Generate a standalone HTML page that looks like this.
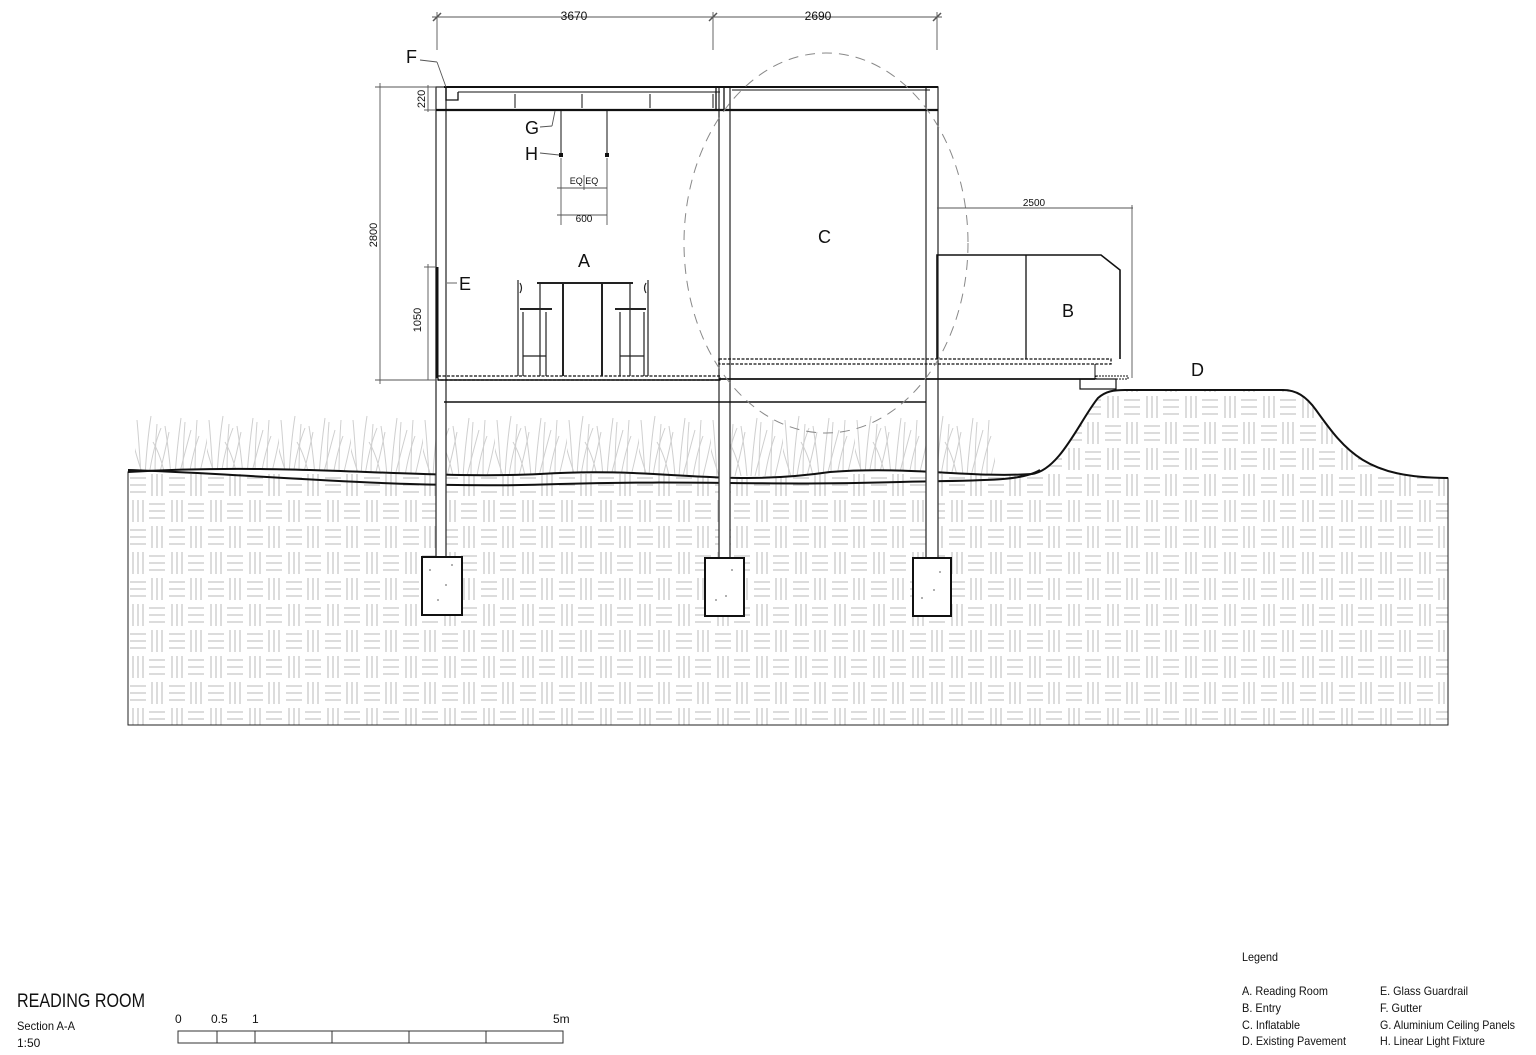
<!DOCTYPE html>
<html><head><meta charset="utf-8"><style>
html,body{margin:0;padding:0;background:#fff;}
svg{display:block;}
text{font-family:"Liberation Sans Narrow","Liberation Sans",sans-serif;fill:#111;}
</style></head><body>
<svg width="1536" height="1055" viewBox="0 0 1536 1055" xmlns="http://www.w3.org/2000/svg">
<defs>
<pattern id="hatch" x="128" y="472" width="39" height="52" patternUnits="userSpaceOnUse">
<g stroke="#c4c4c4" stroke-width="1.2">
<line x1="2" y1="6" x2="18" y2="6"/><line x1="2" y1="13" x2="18" y2="13"/><line x1="2" y1="20" x2="18" y2="20"/>
<line x1="24" y1="2" x2="24" y2="24"/><line x1="29" y1="2" x2="29" y2="24"/><line x1="34" y1="2" x2="34" y2="24"/>
<line x1="21" y1="32" x2="37" y2="32"/><line x1="21" y1="39" x2="37" y2="39"/><line x1="21" y1="46" x2="37" y2="46"/>
<line x1="5" y1="28" x2="5" y2="50"/><line x1="10" y1="28" x2="10" y2="50"/><line x1="15" y1="28" x2="15" y2="50"/>
</g></pattern>
<pattern id="grass" x="135" y="412" width="72" height="64" patternUnits="userSpaceOnUse">
<g stroke="#cfcfcf" stroke-width="1" fill="none">
<path d="M6,64 Q4,30 2,8"/><path d="M10,64 Q12,30 16,4"/><path d="M14,64 Q18,36 26,16"/><path d="M8,64 Q0,40 -4,22"/>
<path d="M20,64 Q20,36 22,12"/><path d="M24,64 Q30,40 34,20"/><path d="M36,64 Q34,40 30,14"/>
<path d="M40,64 Q42,36 46,6"/><path d="M44,64 Q50,40 56,18"/><path d="M48,64 Q48,34 50,10"/>
<path d="M54,64 Q58,40 64,24"/><path d="M60,64 Q60,36 62,8"/><path d="M64,64 Q70,40 74,18"/><path d="M30,64 Q26,44 18,30"/>
</g></pattern>
</defs>

<rect x="135" y="412" width="860" height="64" fill="url(#grass)"/>

<path d="M128,472 C300,462 420,480 540,474 C660,466 720,488 830,472 C910,466 970,478 1032,474 C1060,470 1080,420 1098,398 C1106,391 1114,390 1125,390 L1283,390 C1296,390 1306,396 1316,410 C1346,452 1366,478 1448,478 L1448,725 L128,725 Z" fill="#fff"/>
<path d="M128,472 C300,462 420,480 540,474 C660,466 720,488 830,472 C910,466 970,478 1032,474 C1060,470 1080,420 1098,398 C1106,391 1114,390 1125,390 L1283,390 C1296,390 1306,396 1316,410 C1346,452 1366,478 1448,478 L1448,725 L128,725 Z" fill="url(#hatch)" stroke="#222" stroke-width="1"/>
<path d="M128,472 C300,462 420,480 540,474 C660,466 720,488 830,472 C910,466 970,478 1032,474 C1060,470 1080,420 1098,398 C1106,391 1114,390 1125,390 L1283,390 C1296,390 1306,396 1316,410 C1346,452 1366,478 1448,478" fill="none" stroke="#111" stroke-width="2"/>
<path d="M128,470 C260,474 400,490 560,484 C700,480 760,486 900,482 C980,480 1020,482 1040,470" fill="none" stroke="#111" stroke-width="2"/>

<g fill="#fff" stroke="#333" stroke-width="1.3">
<rect x="436" y="87" width="10" height="472"/>
<rect x="719" y="87" width="11" height="472"/>
<rect x="926" y="87" width="12" height="472"/>
</g>
<g fill="#fff" stroke="#111" stroke-width="2">
<rect x="422" y="557" width="40" height="58"/>
<rect x="705" y="558" width="39" height="58"/>
<rect x="913" y="558" width="38" height="58"/>
</g>
<g fill="#999"><circle cx="430" cy="570" r="1"/><circle cx="446" cy="585" r="1"/><circle cx="438" cy="600" r="1"/><circle cx="452" cy="565" r="1"/><circle cx="716" cy="600" r="1"/><circle cx="732" cy="570" r="1"/><circle cx="726" cy="596" r="1"/><circle cx="940" cy="572" r="1"/><circle cx="922" cy="598" r="1"/><circle cx="934" cy="590" r="1"/></g>

<g stroke="#111" fill="none">
<line x1="444" y1="87" x2="938" y2="87" stroke-width="2"/>
<line x1="458" y1="92" x2="720" y2="92" stroke-width="1"/>
<line x1="732" y1="90" x2="930" y2="90" stroke-width="1"/>
<line x1="436" y1="110" x2="938" y2="110" stroke-width="2.2"/>
<path d="M446,87 L446,100 L458,100 L458,92" stroke-width="1.3"/>
<line x1="716" y1="88" x2="716" y2="110" stroke-width="1.3"/>
<line x1="724" y1="88" x2="724" y2="110" stroke-width="1.3"/>
<g stroke-width="1"><line x1="515" y1="94" x2="515" y2="108"/><line x1="582" y1="94" x2="582" y2="108"/><line x1="650" y1="94" x2="650" y2="108"/><line x1="713" y1="94" x2="713" y2="108"/></g>
<line x1="561" y1="110" x2="561" y2="156" stroke-width="1"/>
<line x1="607" y1="110" x2="607" y2="156" stroke-width="1"/>
</g>
<rect x="559" y="153" width="4" height="4" fill="#111"/><rect x="605" y="153" width="4" height="4" fill="#111"/>

<g stroke="#111" fill="none">
<rect x="438" y="376" width="282" height="4" stroke-width="1.3" stroke-dasharray="3,1.5"/>
<line x1="438" y1="380" x2="720" y2="380" stroke-width="1.5"/>
<line x1="444" y1="402" x2="926" y2="402" stroke-width="1.5"/>
<rect x="719" y="359" width="392" height="5" stroke-width="1.3" stroke-dasharray="3,1.5"/>
<line x1="719" y1="379" x2="1095" y2="379" stroke-width="1.8"/>
<line x1="1095" y1="364" x2="1095" y2="379"/>
<rect x="1080" y="379" width="36" height="10" stroke-width="1.2"/>
<rect x="1096" y="376" width="32" height="3" stroke-width="1" stroke-dasharray="2,1"/>
</g>

<path d="M937,359 L937,255 L1101,255 L1120,270 L1120,359" fill="none" stroke="#111" stroke-width="1.6"/>
<line x1="1026" y1="255" x2="1026" y2="359" stroke="#111" stroke-width="1.3"/>

<ellipse cx="826" cy="243" rx="142" ry="190" fill="none" stroke="#888" stroke-width="1" stroke-dasharray="10,7"/>

<g stroke="#222" fill="none" stroke-width="1.2">
<line x1="537" y1="283" x2="633" y2="283" stroke-width="2"/>
<line x1="540" y1="283" x2="540" y2="376"/><line x1="563" y1="283" x2="563" y2="376" stroke-width="2"/><line x1="602" y1="283" x2="602" y2="376" stroke-width="2"/><line x1="630" y1="283" x2="630" y2="376"/>
<line x1="518" y1="280" x2="518" y2="376"/><line x1="520" y1="309" x2="552" y2="309" stroke-width="2"/><line x1="523" y1="312" x2="523" y2="376"/><line x1="546" y1="312" x2="546" y2="376"/><line x1="523" y1="356" x2="546" y2="356"/>
<path d="M520,283 q3,5 0,10"/>
<line x1="648" y1="280" x2="648" y2="376"/><line x1="615" y1="309" x2="646" y2="309" stroke-width="2"/><line x1="620" y1="312" x2="620" y2="376"/><line x1="644" y1="312" x2="644" y2="376"/><line x1="620" y1="356" x2="644" y2="356"/>
<path d="M646,283 q-3,5 0,10"/>
</g>
<line x1="437" y1="267" x2="437" y2="378" stroke="#111" stroke-width="3"/>

<g stroke="#555" stroke-width="0.9" fill="none">
<line x1="432" y1="17" x2="942" y2="17"/>
<line x1="437" y1="12" x2="437" y2="50"/><line x1="713" y1="12" x2="713" y2="50"/><line x1="937" y1="12" x2="937" y2="50"/>
<line x1="433" y1="21" x2="441" y2="13" stroke-width="1.5"/><line x1="709" y1="21" x2="717" y2="13" stroke-width="1.5"/><line x1="933" y1="21" x2="941" y2="13" stroke-width="1.5"/>
<line x1="380" y1="83" x2="380" y2="384"/>
<line x1="375" y1="87" x2="436" y2="87"/><line x1="375" y1="380" x2="436" y2="380"/>
<line x1="428" y1="85" x2="428" y2="112"/><line x1="424" y1="110" x2="436" y2="110"/>
<line x1="428" y1="264" x2="428" y2="380"/><line x1="424" y1="267" x2="436" y2="267"/>
<line x1="937" y1="208" x2="1133" y2="208"/><line x1="1132" y1="205" x2="1132" y2="378"/>
<line x1="557" y1="188" x2="607" y2="188"/><line x1="557" y1="215" x2="607" y2="215"/>
<line x1="561" y1="158" x2="561" y2="225"/><line x1="584" y1="175" x2="584" y2="190"/><line x1="607" y1="158" x2="607" y2="225"/>
<line x1="420" y1="60" x2="437" y2="62"/><path d="M437,62 L446,87"/>
<line x1="540" y1="127" x2="552" y2="126"/><line x1="552" y1="126" x2="555" y2="111"/>
<line x1="540" y1="153" x2="559" y2="155"/>
<line x1="447" y1="283" x2="457" y2="283"/>
</g>
<text x="574" y="20" font-size="12" text-anchor="middle">3670</text>
<text x="818" y="20" font-size="12" text-anchor="middle">2690</text>
<text x="1034" y="206" font-size="10" text-anchor="middle">2500</text>
<text x="584" y="184" font-size="9" text-anchor="middle">EQ EQ</text>
<text x="584" y="222" font-size="10" text-anchor="middle">600</text>
<text transform="translate(377,235) rotate(-90)" font-size="11" text-anchor="middle">2800</text>
<text transform="translate(425,99) rotate(-90)" font-size="11" text-anchor="middle">220</text>
<text transform="translate(421,320) rotate(-90)" font-size="11" text-anchor="middle">1050</text>

<g font-size="18">
<text x="406" y="63">F</text>
<text x="525" y="134">G</text>
<text x="525" y="160">H</text>
<text x="578" y="267">A</text>
<text x="459" y="290">E</text>
<text x="818" y="243">C</text>
<text x="1062" y="317">B</text>
<text x="1191" y="376">D</text>
</g>

<text x="17" y="1007" font-size="19" textLength="128" lengthAdjust="spacingAndGlyphs">READING ROOM</text>
<text x="17" y="1030" font-size="12" textLength="58" lengthAdjust="spacingAndGlyphs">Section A-A</text>
<text x="17" y="1047" font-size="12">1:50</text>
<g font-size="12"><text x="175" y="1023">0</text><text x="211" y="1023">0.5</text><text x="252" y="1023">1</text><text x="553" y="1023">5m</text></g>
<g stroke="#333" fill="none" stroke-width="1">
<rect x="178" y="1031" width="385" height="12"/>
<line x1="217" y1="1031" x2="217" y2="1043"/><line x1="255" y1="1031" x2="255" y2="1043"/><line x1="332" y1="1031" x2="332" y2="1043"/><line x1="409" y1="1031" x2="409" y2="1043"/><line x1="486" y1="1031" x2="486" y2="1043"/>
</g>

<g font-size="12" lengthAdjust="spacingAndGlyphs">
<text x="1242" y="961" textLength="36" lengthAdjust="spacingAndGlyphs">Legend</text>
<text x="1242" y="995" textLength="86" lengthAdjust="spacingAndGlyphs">A. Reading Room</text>
<text x="1242" y="1012" textLength="39" lengthAdjust="spacingAndGlyphs">B. Entry</text>
<text x="1242" y="1029" textLength="58" lengthAdjust="spacingAndGlyphs">C. Inflatable</text>
<text x="1242" y="1045" textLength="104" lengthAdjust="spacingAndGlyphs">D. Existing Pavement</text>
<text x="1380" y="995" textLength="88" lengthAdjust="spacingAndGlyphs">E. Glass Guardrail</text>
<text x="1380" y="1012" textLength="42" lengthAdjust="spacingAndGlyphs">F. Gutter</text>
<text x="1380" y="1029" textLength="135" lengthAdjust="spacingAndGlyphs">G. Aluminium Ceiling Panels</text>
<text x="1380" y="1045" textLength="105" lengthAdjust="spacingAndGlyphs">H. Linear Light Fixture</text>
</g>
</svg>
</body></html>
